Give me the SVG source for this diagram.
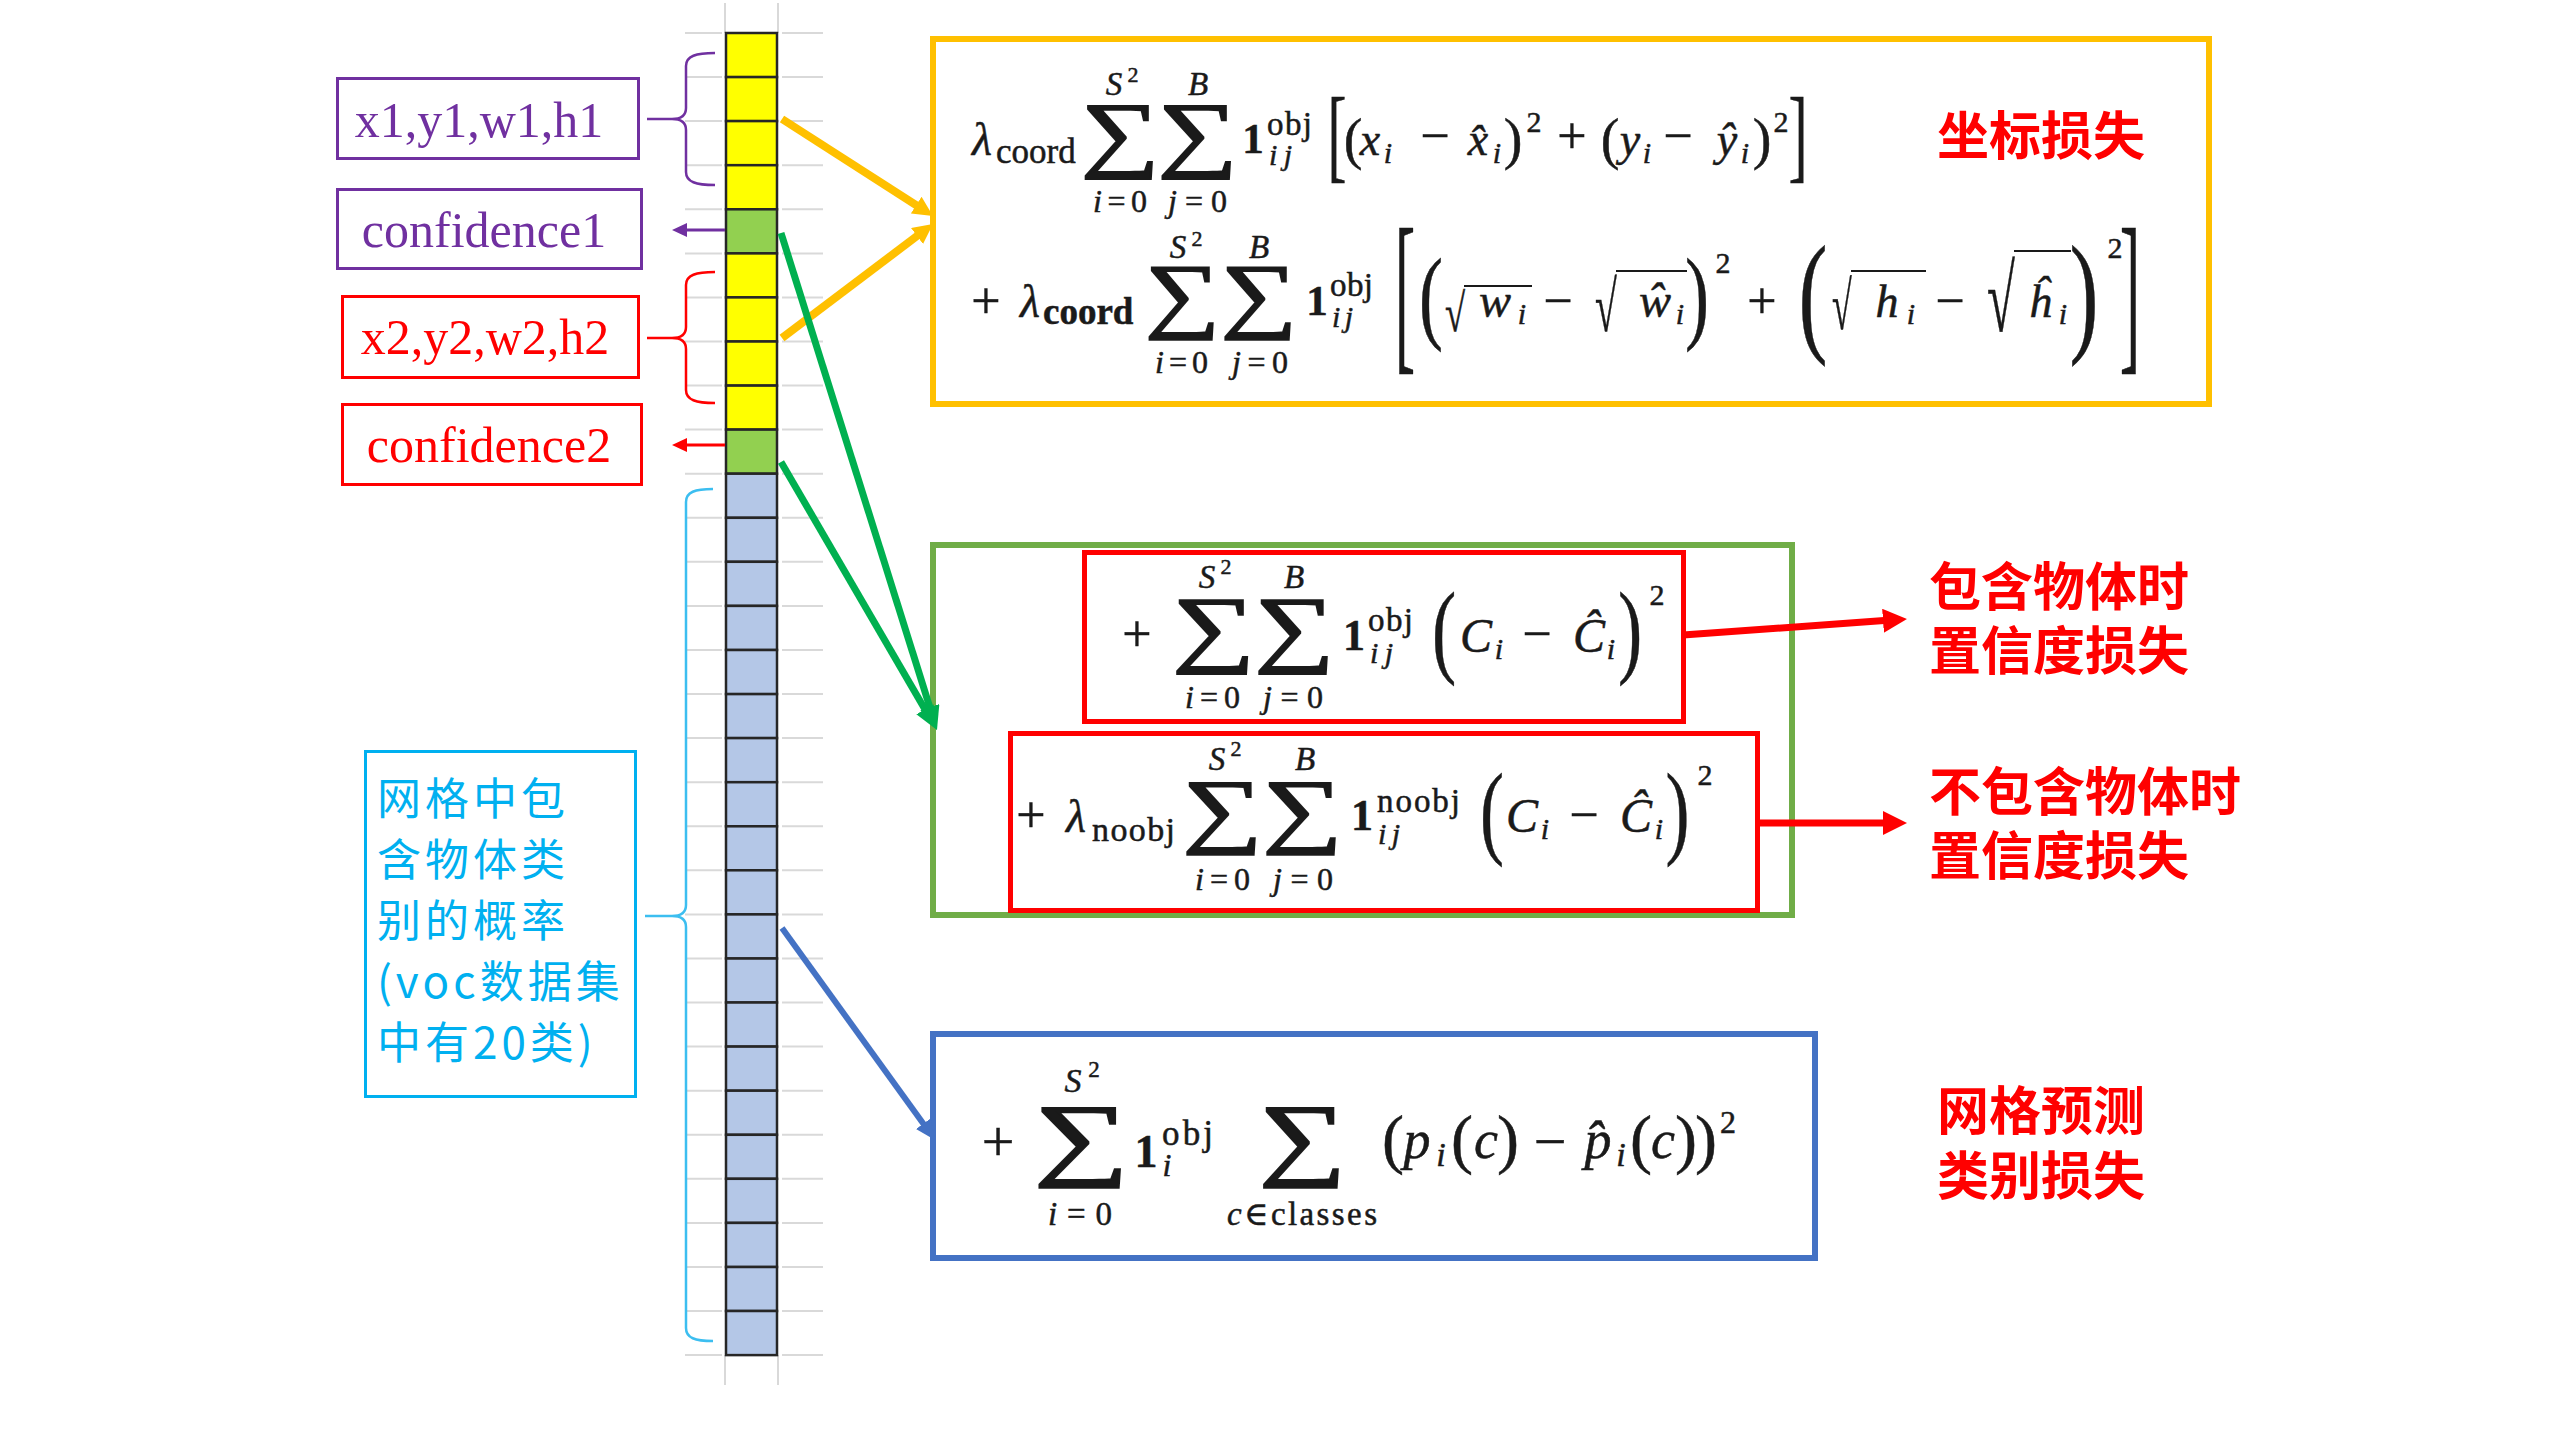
<svg xmlns="http://www.w3.org/2000/svg" width="2560" height="1440" viewBox="0 0 2560 1440">
<style>
.m{font-family:"Liberation Serif","DejaVu Serif",serif;fill:#1a1a1a;stroke:#1a1a1a;stroke-width:0.5}
.i{font-style:italic}
.b{font-weight:bold}
.c{text-anchor:middle}
.sg{stroke:#1a1a1a;stroke-width:2.2}
.lbl{font-family:"Liberation Serif","DejaVu Serif",serif;font-size:50px;text-anchor:middle}
.cn{font-family:"Noto Sans CJK SC",sans-serif;font-weight:700;font-size:52px;fill:#FF0000}
.cy{font-family:"Noto Sans CJK SC",sans-serif;font-size:44px;fill:#00B0F0;letter-spacing:4px}
.grid{stroke:#D9D9D9;stroke-width:2}
.cell{stroke:#262626;stroke-width:2.5}
.ye{fill:#FFFF00}.gr{fill:#92D050}.bl{fill:#B4C7E7}
.vin{stroke:#1a1a1a;stroke-width:2}
</style>
<defs>
<marker id="ao" viewBox="0 0 20 20" refX="6" refY="10" markerWidth="20" markerHeight="20" markerUnits="userSpaceOnUse" orient="auto"><path d="M0,0 L20,10 L0,20 z" fill="#FFC000"/></marker>
<marker id="ag" viewBox="0 0 24 20" refX="8" refY="10" markerWidth="24" markerHeight="20" markerUnits="userSpaceOnUse" orient="auto"><path d="M0,0 L24,10 L0,20 z" fill="#00B050"/></marker>
<marker id="ab" viewBox="0 0 20 18" refX="6" refY="9" markerWidth="20" markerHeight="18" markerUnits="userSpaceOnUse" orient="auto"><path d="M0,0 L20,9 L0,18 z" fill="#4472C4"/></marker>
<marker id="ar" viewBox="0 0 24 24" refX="8" refY="12" markerWidth="24" markerHeight="24" markerUnits="userSpaceOnUse" orient="auto"><path d="M0,0 L24,12 L0,24 z" fill="#FF0000"/></marker>
<marker id="ap" viewBox="0 0 15 14" refX="5" refY="7" markerWidth="15" markerHeight="14" markerUnits="userSpaceOnUse" orient="auto"><path d="M0,0 L15,7 L0,14 z" fill="#7030A0"/></marker>
<marker id="ars" viewBox="0 0 15 14" refX="5" refY="7" markerWidth="15" markerHeight="14" markerUnits="userSpaceOnUse" orient="auto"><path d="M0,0 L15,7 L0,14 z" fill="#FF0000"/></marker>
</defs>
<rect width="2560" height="1440" fill="#FFFFFF"/>

<g id="grid">
<line class="grid" x1="725" y1="3" x2="725" y2="33"/><line class="grid" x1="778" y1="3" x2="778" y2="33"/>
<line class="grid" x1="725" y1="1355" x2="725" y2="1385"/><line class="grid" x1="778" y1="1355" x2="778" y2="1385"/>
<path class="grid" fill="none" d="M685,33H722M782,33H823 M685,77.1H722M782,77.1H823 M685,121.1H722M782,121.1H823 M685,165.2H722M782,165.2H823 M685,209.3H722M782,209.3H823 M685,253.4H722M782,253.4H823 M685,297.4H722M782,297.4H823 M685,341.5H722M782,341.5H823 M685,385.6H722M782,385.6H823 M685,429.6H722M782,429.6H823 M685,473.7H722M782,473.7H823 M685,517.8H722M782,517.8H823 M685,561.8H722M782,561.8H823 M685,605.9H722M782,605.9H823 M685,650H722M782,650H823 M685,694.1H722M782,694.1H823 M685,738.1H722M782,738.1H823 M685,782.2H722M782,782.2H823 M685,826.3H722M782,826.3H823 M685,870.3H722M782,870.3H823 M685,914.4H722M782,914.4H823 M685,958.5H722M782,958.5H823 M685,1002.5H722M782,1002.5H823 M685,1046.6H722M782,1046.6H823 M685,1090.7H722M782,1090.7H823 M685,1134.8H722M782,1134.8H823 M685,1178.8H722M782,1178.8H823 M685,1222.9H722M782,1222.9H823 M685,1267H722M782,1267H823 M685,1311H722M782,1311H823 M685,1355.1H722M782,1355.1H823"/>
</g>

<g id="column">
<rect class="cell ye" x="726" y="33" width="51" height="44.1"/>
<rect class="cell ye" x="726" y="77.1" width="51" height="44"/>
<rect class="cell ye" x="726" y="121.1" width="51" height="44.1"/>
<rect class="cell ye" x="726" y="165.2" width="51" height="44.1"/>
<rect class="cell gr" x="726" y="209.3" width="51" height="44.1"/>
<rect class="cell ye" x="726" y="253.4" width="51" height="44"/>
<rect class="cell ye" x="726" y="297.4" width="51" height="44.1"/>
<rect class="cell ye" x="726" y="341.5" width="51" height="44.1"/>
<rect class="cell ye" x="726" y="385.6" width="51" height="44"/>
<rect class="cell gr" x="726" y="429.6" width="51" height="44.1"/>
<rect class="cell bl" x="726" y="473.7" width="51" height="44.1"/>
<rect class="cell bl" x="726" y="517.8" width="51" height="44"/>
<rect class="cell bl" x="726" y="561.8" width="51" height="44.1"/>
<rect class="cell bl" x="726" y="605.9" width="51" height="44.1"/>
<rect class="cell bl" x="726" y="650" width="51" height="44.1"/>
<rect class="cell bl" x="726" y="694.1" width="51" height="44"/>
<rect class="cell bl" x="726" y="738.1" width="51" height="44.1"/>
<rect class="cell bl" x="726" y="782.2" width="51" height="44.1"/>
<rect class="cell bl" x="726" y="826.3" width="51" height="44"/>
<rect class="cell bl" x="726" y="870.3" width="51" height="44.1"/>
<rect class="cell bl" x="726" y="914.4" width="51" height="44.1"/>
<rect class="cell bl" x="726" y="958.5" width="51" height="44"/>
<rect class="cell bl" x="726" y="1002.5" width="51" height="44.1"/>
<rect class="cell bl" x="726" y="1046.6" width="51" height="44.1"/>
<rect class="cell bl" x="726" y="1090.7" width="51" height="44.1"/>
<rect class="cell bl" x="726" y="1134.8" width="51" height="44"/>
<rect class="cell bl" x="726" y="1178.8" width="51" height="44.1"/>
<rect class="cell bl" x="726" y="1222.9" width="51" height="44.1"/>
<rect class="cell bl" x="726" y="1267" width="51" height="44"/>
<rect class="cell bl" x="726" y="1311" width="51" height="44.1"/>
</g>

<g id="label-xywh1">
<rect x="337.5" y="78.5" width="301" height="80" fill="#FFFFFF" stroke="#7030A0" stroke-width="3"/>
<text class="lbl" x="479" y="137" fill="#7030A0">x1,y1,w1,h1</text>
</g>
<g id="label-conf1">
<rect x="337.5" y="189.5" width="304" height="79" fill="#FFFFFF" stroke="#7030A0" stroke-width="3"/>
<text class="lbl" x="484" y="247" fill="#7030A0">confidence1</text>
</g>
<g id="label-xywh2">
<rect x="342.5" y="296.5" width="296" height="81" fill="#FFFFFF" stroke="#FF0000" stroke-width="3"/>
<text class="lbl" x="485" y="354" fill="#FF0000">x2,y2,w2,h2</text>
</g>
<g id="label-conf2">
<rect x="342.5" y="404.5" width="299" height="80" fill="#FFFFFF" stroke="#FF0000" stroke-width="3"/>
<text class="lbl" x="489" y="462" fill="#FF0000">confidence2</text>
</g>
<g id="label-classes">
<rect x="365.5" y="751.5" width="270" height="345" fill="#FFFFFF" stroke="#00B0F0" stroke-width="3"/>
<text class="cy"><tspan x="377" y="815">网格中包</tspan><tspan x="377" dy="61">含物体类</tspan><tspan x="377" dy="61">别的概率</tspan><tspan x="377" dy="61">(voc数据集</tspan><tspan x="377" dy="61">中有20类)</tspan></text>
</g>

<g id="coord-box">
<rect x="933" y="39" width="1276" height="365" fill="#FFFFFF" stroke="#FFC000" stroke-width="6"/>
<!-- row 1 -->
<text class="m i c" x="982" y="155" font-size="46">λ</text>
<text class="m" x="996" y="163" font-size="35">coord</text>
<text class="m c sg" font-size="100" transform="translate(1120,108) scale(1.10,0.84)" y="63">∑</text>
<text class="m c sg" font-size="100" transform="translate(1197.5,108) scale(1.12,0.84)" y="63">∑</text>
<text class="m i c" x="1114" y="95" font-size="33">S</text>
<text class="m c" x="1133" y="82" font-size="22">2</text>
<text class="m i c" x="1198" y="95" font-size="33">B</text>
<text class="m" x="1093" y="212" font-size="32" textLength="54"><tspan class="i">i</tspan>=0</text>
<text class="m" x="1168" y="212" font-size="32" textLength="59"><tspan class="i">j</tspan>=0</text>
<text class="m b c" x="1253" y="153" font-size="43">1</text>
<text class="m" x="1267" y="135" font-size="33" textLength="45">obj</text>
<text class="m i" x="1269" y="165" font-size="30" textLength="23">ij</text>
<text class="m c" font-size="104" transform="translate(1337,169) scale(0.55,1)">[</text>
<text class="m c" x="1353" y="158" font-size="56">(</text>
<text class="m i c" x="1370" y="155" font-size="46">x</text>
<text class="m i c" x="1388" y="163" font-size="30">i</text>
<text class="m c" x="1435" y="153" font-size="52">−</text>
<text class="m i c" x="1478" y="155" font-size="46">x&#x302;</text>
<text class="m i c" x="1497" y="163" font-size="30">i</text>
<text class="m c" x="1513" y="158" font-size="56">)</text>
<text class="m c" x="1534" y="132" font-size="30">2</text>
<text class="m c" x="1572" y="153" font-size="52">+</text>
<text class="m c" x="1610" y="158" font-size="56">(</text>
<text class="m i c" x="1630" y="155" font-size="46">y</text>
<text class="m i c" x="1647" y="163" font-size="30">i</text>
<text class="m c" x="1678" y="153" font-size="52">−</text>
<text class="m i c" x="1727" y="155" font-size="46">y&#x302;</text>
<text class="m i c" x="1745" y="163" font-size="30">i</text>
<text class="m c" x="1762" y="158" font-size="56">)</text>
<text class="m c" x="1781" y="132" font-size="30">2</text>
<text class="m c" font-size="104" transform="translate(1798,169) scale(0.55,1)">]</text>
<!-- row 2 -->
<text class="m c" x="986" y="318" font-size="52">+</text>
<text class="m i c" x="1030" y="317" font-size="46">λ</text>
<text class="m b" x="1043" y="324" font-size="37">coord</text>
<text class="m c sg" font-size="100" transform="translate(1182.5,270) scale(1.05,0.83)" y="63">∑</text>
<text class="m c sg" font-size="100" transform="translate(1259,270) scale(1.07,0.83)" y="63">∑</text>
<text class="m i c" x="1178" y="258" font-size="33">S</text>
<text class="m c" x="1197" y="246" font-size="22">2</text>
<text class="m i c" x="1259" y="258" font-size="33">B</text>
<text class="m" x="1155" y="373" font-size="32" textLength="53"><tspan class="i">i</tspan>=0</text>
<text class="m" x="1232" y="373" font-size="32" textLength="56"><tspan class="i">j</tspan>=0</text>
<text class="m b c" x="1317" y="315" font-size="43">1</text>
<text class="m" x="1330" y="296" font-size="33" textLength="43">obj</text>
<text class="m i" x="1332" y="327" font-size="30" textLength="21">ij</text>
<text class="m c" font-size="176" transform="translate(1405,349.5) scale(0.35,1)">[</text>
<text class="m c" font-size="103" transform="translate(1431,329.8) scale(0.7,1)">(</text>
<text class="m" font-size="53" transform="translate(1445,331) scale(0.69,1)">√</text>
<line class="vin" x1="1464" y1="286" x2="1532" y2="286"/>
<text class="m i c" x="1495" y="317" font-size="48">w</text>
<text class="m i c" x="1522" y="324" font-size="30">i</text>
<text class="m c" x="1558" y="318" font-size="52">−</text>
<text class="m" font-size="71" transform="translate(1595,331) scale(0.56,1)">√</text>
<line class="vin" x1="1616" y1="271" x2="1687" y2="271"/>
<text class="m i c" x="1655" y="317" font-size="48">w&#x302;</text>
<text class="m i c" x="1680" y="324" font-size="30">i</text>
<text class="m c" font-size="103" transform="translate(1697,329.8) scale(0.7,1)">)</text>
<text class="m c" x="1723" y="273" font-size="30">2</text>
<text class="m c" x="1762" y="318" font-size="52">+</text>
<text class="m c" font-size="134" transform="translate(1813,338.3) scale(0.65,1)">(</text>
<text class="m" font-size="68" transform="translate(1832,329) scale(0.53,1)">√</text>
<line class="vin" x1="1851" y1="271" x2="1926" y2="271"/>
<text class="m i c" x="1887" y="317" font-size="46">h</text>
<text class="m i c" x="1911" y="324" font-size="30">i</text>
<text class="m c" x="1950" y="318" font-size="52">−</text>
<text class="m" font-size="94" transform="translate(1987,331) scale(0.54,1)">√</text>
<line class="vin" x1="2014" y1="251" x2="2071" y2="251"/>
<text class="m i c" x="2040" y="317" font-size="46">h&#x302;</text>
<text class="m i c" x="2063" y="324" font-size="30">i</text>
<text class="m c" font-size="134" transform="translate(2084,338.3) scale(0.65,1)">)</text>
<text class="m c" x="2115" y="258" font-size="30">2</text>
<text class="m c" font-size="176" transform="translate(2130,349.5) scale(0.35,1)">]</text>
</g>

<g id="conf-box">
<rect x="933" y="545" width="859" height="370" fill="#FFFFFF" stroke="#70AD47" stroke-width="6"/>
</g>
<g id="obj-box">
<rect x="1084.5" y="552.5" width="599" height="169" fill="#FFFFFF" stroke="#FF0000" stroke-width="5"/>
<text class="m c" x="1137" y="651" font-size="52">+</text>
<text class="m c sg" font-size="100" transform="translate(1213.5,602) scale(1.16,0.85)" y="63">∑</text>
<text class="m c sg" font-size="100" transform="translate(1294.5,602) scale(1.12,0.85)" y="63">∑</text>
<text class="m i c" x="1207" y="588" font-size="33">S</text>
<text class="m c" x="1226" y="574" font-size="22">2</text>
<text class="m i c" x="1294" y="588" font-size="33">B</text>
<text class="m" x="1185" y="708" font-size="32" textLength="55"><tspan class="i">i</tspan>=0</text>
<text class="m" x="1263" y="708" font-size="32" textLength="60"><tspan class="i">j</tspan>=0</text>
<text class="m b c" x="1354" y="650" font-size="44">1</text>
<text class="m" x="1368" y="631" font-size="33" textLength="45">obj</text>
<text class="m i" x="1370" y="663" font-size="30" textLength="23">ij</text>
<text class="m c" font-size="104" transform="translate(1444,663.6) scale(0.7,1)">(</text>
<text class="m i c" x="1476" y="652" font-size="48">C</text>
<text class="m i c" x="1499" y="659" font-size="30">i</text>
<text class="m c" x="1537" y="651" font-size="52">−</text>
<text class="m i c" x="1589" y="652" font-size="48">C&#x302;</text>
<text class="m i c" x="1611" y="659" font-size="30">i</text>
<text class="m c" font-size="104" transform="translate(1630,663.6) scale(0.7,1)">)</text>
<text class="m c" x="1657" y="605" font-size="30">2</text>
</g>
<g id="noobj-box">
<rect x="1010.5" y="733.5" width="747" height="177" fill="#FFFFFF" stroke="#FF0000" stroke-width="5"/>
<text class="m c" x="1031" y="832" font-size="52">+</text>
<text class="m i c" x="1076" y="832" font-size="46">λ</text>
<text class="m" x="1092" y="841" font-size="34" textLength="83">noobj</text>
<text class="m c sg" font-size="100" transform="translate(1222.5,785) scale(1.12,0.83)" y="63">∑</text>
<text class="m c sg" font-size="100" transform="translate(1302.5,785) scale(1.12,0.83)" y="63">∑</text>
<text class="m i c" x="1217" y="770" font-size="33">S</text>
<text class="m c" x="1236" y="756" font-size="22">2</text>
<text class="m i c" x="1305" y="770" font-size="33">B</text>
<text class="m" x="1195" y="890" font-size="32" textLength="55"><tspan class="i">i</tspan>=0</text>
<text class="m" x="1273" y="890" font-size="32" textLength="60"><tspan class="i">j</tspan>=0</text>
<text class="m b c" x="1362" y="830" font-size="44">1</text>
<text class="m" x="1377" y="812" font-size="33" textLength="83">noobj</text>
<text class="m i" x="1378" y="844" font-size="30" textLength="22">ij</text>
<text class="m c" font-size="103" transform="translate(1492,844.8) scale(0.7,1)">(</text>
<text class="m i c" x="1522" y="832" font-size="48">C</text>
<text class="m i c" x="1545" y="839" font-size="30">i</text>
<text class="m c" x="1584" y="832" font-size="52">−</text>
<text class="m i c" x="1636" y="832" font-size="48">C&#x302;</text>
<text class="m i c" x="1659" y="839" font-size="30">i</text>
<text class="m c" font-size="103" transform="translate(1677.5,844.8) scale(0.7,1)">)</text>
<text class="m c" x="1705" y="785" font-size="30">2</text>
</g>

<g id="class-box">
<rect x="933" y="1034" width="882" height="224" fill="#FFFFFF" stroke="#4472C4" stroke-width="6"/>
<text class="m c" x="998" y="1161" font-size="58">+</text>
<text class="m c sg" font-size="100" transform="translate(1081.5,1110) scale(1.33,0.915)" y="63">∑</text>
<text class="m i c" x="1073" y="1092" font-size="34">S</text>
<text class="m c" x="1094" y="1077" font-size="23">2</text>
<text class="m" x="1048" y="1225" font-size="33" textLength="64"><tspan class="i">i</tspan>=0</text>
<text class="m b c" x="1146" y="1167" font-size="46">1</text>
<text class="m" x="1162" y="1145" font-size="35" textLength="51">obj</text>
<text class="m i c" x="1167" y="1176" font-size="32">i</text>
<text class="m c sg" font-size="100" transform="translate(1302.5,1110) scale(1.22,0.915)" y="63">∑</text>
<text class="m" x="1227" y="1225" font-size="33" textLength="150"><tspan class="i">c</tspan>∈classes</text>
<text class="m c" x="1393" y="1161" font-size="66">(</text>
<text class="m i c" x="1417" y="1158" font-size="54">p</text>
<text class="m i c" x="1441" y="1166" font-size="34">i</text>
<text class="m c" x="1462" y="1161" font-size="66">(</text>
<text class="m i c" x="1486" y="1158" font-size="54">c</text>
<text class="m c" x="1508" y="1161" font-size="66">)</text>
<text class="m c" x="1550" y="1161" font-size="58">−</text>
<text class="m i c" x="1598" y="1158" font-size="54">p&#x302;</text>
<text class="m i c" x="1621" y="1166" font-size="34">i</text>
<text class="m c" x="1641" y="1161" font-size="66">(</text>
<text class="m i c" x="1663" y="1158" font-size="54">c</text>
<text class="m c" x="1686" y="1161" font-size="66">)</text>
<text class="m c" x="1706" y="1161" font-size="66">)</text>
<text class="m c" x="1728" y="1133" font-size="32">2</text>
</g>

<g id="loss-labels">
<text class="cn" x="1937" y="155">坐标损失</text>
<text class="cn"><tspan x="1929" y="606">包含物体时</tspan><tspan x="1929" dy="64">置信度损失</tspan></text>
<text class="cn"><tspan x="1929" y="811">不包含物体时</tspan><tspan x="1929" dy="64">置信度损失</tspan></text>
<text class="cn"><tspan x="1937" y="1130">网格预测</tspan><tspan x="1937" dy="65">类别损失</tspan></text>
</g>

<g id="connectors" fill="none">
<path d="M715,53 C696,53 686,56 686,66 L686,108 C686,115 682,119 672,119 C682,119 686,123 686,130 L686,172 C686,182 696,185 715,185 M647,119 L672,119" stroke="#7030A0" stroke-width="2.5"/>
<path d="M715,272 C696,272 686,275 686,285 L686,327 C686,334 682,338 672,338 C682,338 686,342 686,349 L686,390 C686,400 696,403 715,403 M647,338 L672,338" stroke="#FF0000" stroke-width="2.5"/>
<path d="M713,489 C695,489 686,492 686,502 L686,905 C686,912 682,916 672,916 C682,916 686,920 686,927 L686,1328 C686,1338 695,1341 713,1341 M645,916 L672,916" stroke="#3CBEF0" stroke-width="2.5"/>
<line x1="725" y1="230" x2="682" y2="230" stroke="#7030A0" stroke-width="3" marker-end="url(#ap)"/>
<line x1="725" y1="445" x2="682" y2="445" stroke="#FF0000" stroke-width="3" marker-end="url(#ars)"/>
<line x1="782" y1="119" x2="921.2" y2="208.4" stroke="#FFC000" stroke-width="8" marker-end="url(#ao)"/>
<line x1="782" y1="338" x2="921.8" y2="232.4" stroke="#FFC000" stroke-width="8" marker-end="url(#ao)"/>
<line x1="781" y1="233" x2="932.2" y2="714.7" stroke="#00B050" stroke-width="7" marker-end="url(#ag)"/>
<line x1="781" y1="462" x2="929" y2="716.2" stroke="#00B050" stroke-width="7" marker-end="url(#ag)"/>
<line x1="782" y1="928" x2="926.8" y2="1128.6" stroke="#4472C4" stroke-width="6" marker-end="url(#ab)"/>
<line x1="1683" y1="635" x2="1891" y2="620.1" stroke="#FF0000" stroke-width="7" marker-end="url(#ar)"/>
<line x1="1757" y1="823" x2="1891" y2="823" stroke="#FF0000" stroke-width="7" marker-end="url(#ar)"/>
</g>
</svg>
